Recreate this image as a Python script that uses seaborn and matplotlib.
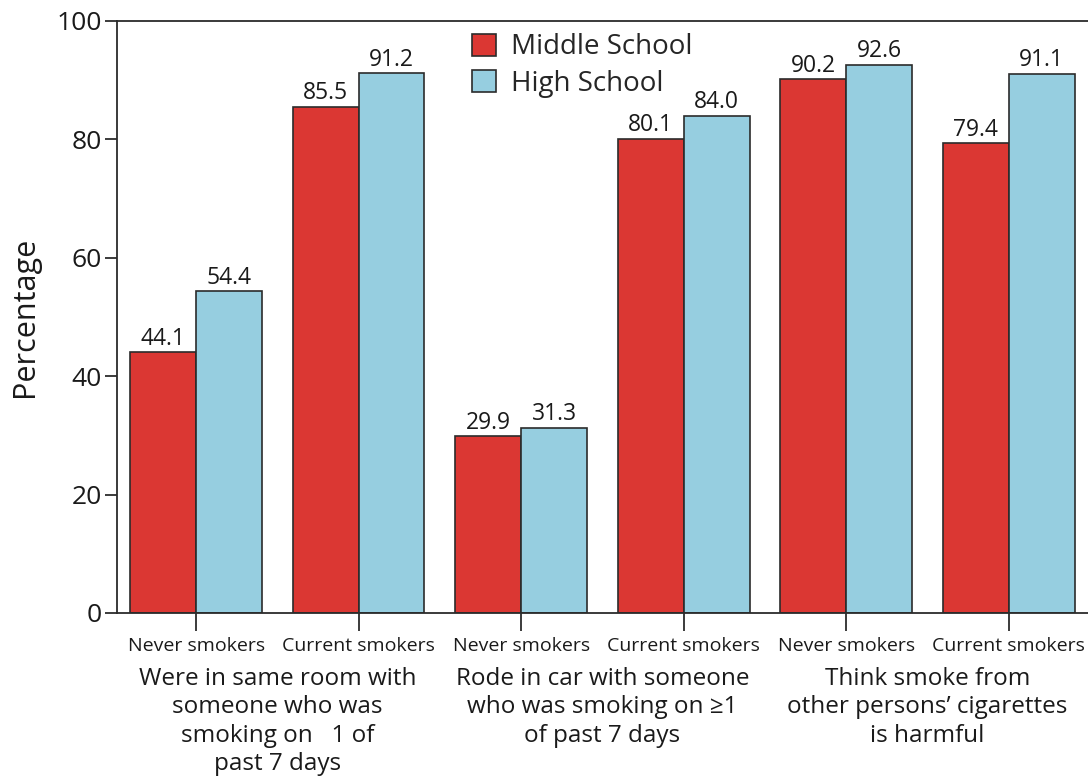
import pandas as pd
import matplotlib
matplotlib.use("Agg")
import matplotlib.pyplot as plt
import matplotlib.transforms as mtransforms
import seaborn as sns

# bar categories (two per question group)
measures = ["Never smokers", "Current smokers", "Never smokers",
            "Current smokers", "Never smokers", "Current smokers"]
middle_school = [44.1, 85.5, 29.9, 80.1, 90.2, 79.4]
high_school = [54.4, 91.2, 31.3, 84.0, 92.6, 91.1]
groups = ["Were in same room with\nsomeone who was\nsmoking on   1 of\npast 7 days",
          "Rode in car with someone\nwho was smoking on \u22651\nof past 7 days",
          "Think smoke from\nother persons\u2019 cigarettes\nis harmful"]
yticks = [0, 20, 40, 60, 80, 100]

sns.set_style("ticks")
plt.rcParams['font.family'] = ['Open Sans', 'DejaVu Sans']

rows = []
for i in range(len(measures)):
    rows.append({"pos": str(i), "School": "Middle School", "pct": middle_school[i]})
    rows.append({"pos": str(i), "School": "High School", "pct": high_school[i]})
df = pd.DataFrame(rows)

fig = plt.figure(figsize=(10.88, 7.78), dpi=100)
ax = fig.add_axes([117 / 1088, 1 - 613 / 778, (1090 - 117) / 1088, (613 - 21) / 778])

sns.barplot(data=df, x="pos", y="pct", hue="School",
            order=[str(i) for i in range(len(measures))],
            hue_order=["Middle School", "High School"],
            palette=["#db3733", "#96cee0"], width=0.81, saturation=1,
            edgecolor="#2b2b2b", linewidth=1.2, ax=ax)

for c in ax.containers:
    ax.bar_label(c, fmt="%.1f", padding=1, fontsize=16.5, color="#1a1a1a")

ax.set_xlim(-0.487, 5.5)
ax.set_ylim(0, 100)
ax.set_yticks(yticks)
ax.tick_params(axis="y", labelsize=19, length=9, width=1.2, colors="#1a1a1a", pad=2)
ax.set_xticks(range(len(measures)))
ax.set_xticklabels(measures)
ax.tick_params(axis="x", labelsize=14, length=13, width=1.2, colors="#1a1a1a", pad=4)
ax.set_xlabel("")
ax.set_ylabel("Percentage", fontsize=22, color="#1a1a1a", labelpad=12)

for side in ["left", "top", "bottom"]:
    ax.spines[side].set_linewidth(1.3)
    ax.spines[side].set_color("#2b2b2b")
ax.spines["right"].set_visible(False)

trans = mtransforms.blended_transform_factory(ax.transData, fig.transFigure)
for g, label in enumerate(groups):
    ax.text(2 * g + 0.5, 1 - 667 / 778, label, transform=trans, ha="center", va="top",
            fontsize=17.5, color="#1a1a1a", linespacing=1.24)

ax.legend(loc="upper left", bbox_to_anchor=((461 - 117) / 973, 0.998), frameon=False,
          fontsize=20, handlelength=0.85, handleheight=0.85, handletextpad=0.55,
          labelspacing=0.3, borderaxespad=0)

fig.savefig("out.png", dpi=100)
